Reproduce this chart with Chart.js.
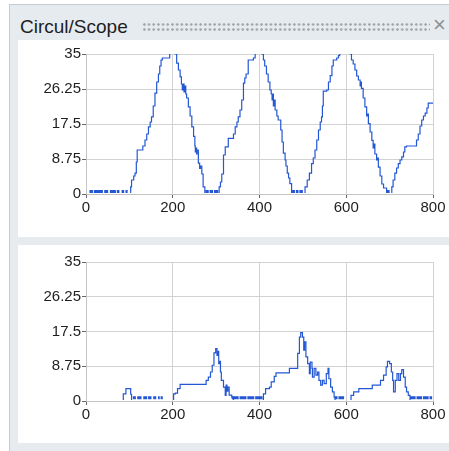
<!DOCTYPE html>
<html>
<head>
<meta charset="utf-8">
<script src="https://cdn.jsdelivr.net/npm/chart.js@4.4.0/dist/chart.umd.min.js"></script>
<style>
  body { margin: 0; background: #ffffff; width: 449px; height: 451px; overflow: hidden; position: relative; font-family: "Liberation Sans", Arial, sans-serif; }
  #panel { position: absolute; left: 9px; top: 4px; width: 440px; height: 447px; border-left: 1px solid #c6ccd1; border-top: 1px solid #c6ccd1; background: #e6ebef; }
  #title { position: absolute; left: 10px; top: 11px; font-size: 19px; color: #1e1e1e; }
  #grip { position: absolute; left: 132px; top: 17px; width: 288px; height: 10px;
          background: radial-gradient(circle, #a3a8ad 1px, transparent 1.5px) 0 0 / 4.7px 5px; }
  #close { position: absolute; left: 423px; top: 7px; font-size: 22px; color: #8d9196; }
  .box { position: absolute; left: 18px; width: 431px; background: #ffffff; }
</style>
</head>
<body>
<div id="panel">
  <div id="title">Circul/Scope</div>
  <div id="grip"></div>
  <div id="close">×</div>
</div>
<div class="box" style="top:40px;height:197px"><canvas id="topChart"></canvas></div>
<div class="box" style="top:245px;height:198px"><canvas id="bottomChart"></canvas></div>
<script>
// axis ticks
const xTicks = [0, 200, 400, 600, 800];
const yTicks = [0, 8.75, 17.5, 26.25, 35];

// upper trace
const topX = [0, 99, 103, 105, 110, 113, 116, 118, 127, 131, 136, 140, 144, 148, 151, 155, 159, 163, 167, 170, 173, 176, 190, 193, 198, 203, 205,
  209, 213, 217, 220, 222, 224, 226, 228, 230, 232, 236, 240, 244, 248, 251, 252, 253, 255, 256, 259, 262, 264, 267, 270, 274,
  306, 307, 310, 313, 317, 321, 328, 336, 340, 344, 348, 351, 355, 359, 363, 366, 369, 374, 386, 390, 397, 403, 405,
  409, 412, 416, 420, 424, 427, 429, 430, 432, 434, 436, 440, 443, 449, 452, 455, 459, 461, 464, 467, 470, 474,
  503, 505, 510, 515, 520, 524, 528, 532, 536, 540, 543, 545, 547, 555, 559, 563, 567, 570, 578, 582, 585, 595, 605, 609,
  612, 616, 620, 624, 628, 632, 634, 635, 639, 643, 647, 649, 651, 655, 659, 662, 664, 666, 670, 672, 674, 678, 682, 686, 693,
  700, 705, 708, 712, 716, 720, 724, 728, 732, 735, 739, 758, 762, 766, 770, 774, 778, 782, 786, 789, 800];
const topY = [0, 0, 1.8, 3.5, 4.5, 5.2, 8, 11, 11, 12, 13.5, 15, 16.8, 18, 19.3, 22, 25.2, 28, 30, 32, 33.5, 34, 34, 36, 37.5, 36, 35,
  32.7, 31, 29.3, 27.5, 26, 27.5, 25.5, 27, 25, 24, 21.8, 19.5, 16.8, 14.4, 12, 10.5, 11.5, 10, 11, 7.7, 6.4, 7, 5, 1.8, 0,
  0, 1.8, 3, 5, 9.75, 11.8, 13.9, 13.9, 15, 16.8, 18, 19.3, 21, 23.5, 27.7, 29, 30, 33.5, 34, 35.5, 37.5, 36, 35,
  33.5, 32, 30, 28, 26, 25, 23.5, 25, 22, 23.5, 21, 19.5, 18.5, 16, 13, 10.2, 8.5, 7, 5.2, 4, 2.6, 0,
  0, 1.8, 3.5, 5.2, 7.6, 9, 11, 13.5, 16, 18, 19.3, 22, 25.7, 26, 28, 29.6, 32, 33.5, 34, 34.6, 36, 38, 36.5, 35,
  33.5, 32.5, 31, 29.5, 28.5, 27, 28, 26.4, 24, 21.8, 19.5, 20, 17.6, 15.5, 13.4, 11.5, 12.5, 10, 8.5, 9, 6.7, 4.5, 2.5, 1.5, 0,
  0, 1.8, 3.5, 5.2, 6.5, 7.6, 8.5, 9.3, 10.5, 11.8, 12, 12, 13.5, 15, 17, 18.5, 19.5, 20.2, 21.5, 22.7, 22.7];
// flickering spans near zero (start, end)
const topFlicker = [[8, 16], [18, 39], [42, 51], [55, 69], [71, 77], [82, 88], [91, 96],
  [275, 283], [285, 293], [295, 305], [475, 482], [484, 490], [492, 500], [693, 700]];

// lower trace
const bottomX = [0, 85, 86, 92, 99, 103, 105, 200, 202, 206, 211, 217, 273, 277, 282, 287, 291, 295, 299, 302, 304, 306, 308, 310, 312,
  317, 321, 323, 325, 327, 330, 336, 340, 408, 409, 414, 423, 427, 434, 438, 467, 469, 484, 488, 492, 495, 499, 502, 504, 507,
  511, 515, 517, 521, 522, 526, 530, 534, 537, 541, 545, 549, 554, 558, 560, 564, 568, 572, 574, 610, 611, 617, 629, 656,
  660, 675, 679, 686, 692, 695, 700, 704, 707, 709, 713, 717, 721, 725, 728, 732, 736, 739, 743, 747, 800];
const bottomY = [0, 0, 1.8, 3.1, 3.1, 1.7, 0, 0, 1.8, 2, 3.1, 4.2, 4.2, 5.2, 6, 7.3, 9, 12.1, 13.2, 11.5, 12.5, 9.4, 10, 7.3, 5.2,
  3.5, 1.4, 4, 2.5, 3.5, 1.5, 1, 0, 0, 1.8, 3.1, 3.5, 4.8, 6.2, 7.1, 7.1, 8.2, 8.2, 12, 16.1, 17.2, 16.1, 12.8, 14.9, 11.1,
  9.4, 6.9, 9.8, 8.2, 6, 8.2, 6.5, 7.3, 5.2, 4, 5.2, 4.4, 6.9, 8.2, 5.6, 3.5, 2.3, 1, 0, 0, 1.4, 2.3, 3.1, 3.1,
  4, 4, 5.2, 6.5, 8.6, 10, 9.4, 7.3, 5.2, 2.3, 5.2, 6.9, 5.2, 6.9, 7.9, 6, 3.5, 2.3, 1.4, 0, 0];
const bottomFlicker = [[108, 115], [118, 128], [132, 141], [143, 151], [155, 162], [166, 170], [172, 177],
  [336, 352], [354, 370], [372, 388], [390, 407], [574, 580], [582, 595],
  [747, 760], [762, 775], [777, 790], [792, 798]];

const LINE = "#2457d4";

function flickerPoints(spans, level) {
  let pts = [];
  spans.forEach(s => {
    pts.push({ x: s[0], y: level });
    pts.push({ x: s[1], y: level });
    pts.push({ x: s[1], y: null });
  });
  return pts;
}

function makeChart(id, xs, ys, spans, level, padTop, axisH) {
  const main = xs.map((x, i) => ({ x: x, y: ys[i] }));
  const tickFont = { family: "'Liberation Sans', Arial, sans-serif", size: 15 };
  return new Chart(document.getElementById(id), {
    type: "line",
    data: {
      datasets: [{
        data: main,
        borderColor: LINE,
        borderWidth: 1.2,
        pointRadius: 0,
        stepped: true,
        clip: { left: 0, top: 0, right: 0, bottom: -1 }
      }, {
        data: flickerPoints(spans, level),
        borderColor: LINE,
        borderWidth: 3,
        borderCapStyle: "butt",
        pointRadius: 0,
        spanGaps: false,
        clip: { left: 0, top: 0, right: 0, bottom: -1 }
      }]
    },
    options: {
      responsive: true,
      maintainAspectRatio: false,
      animation: false,
      layout: { padding: { top: padTop, right: 16, left: 0, bottom: 0 } },
      plugins: { legend: { display: false }, tooltip: { enabled: false } },
      scales: {
        x: {
          type: "linear",
          min: 0,
          max: 800,
          afterBuildTicks: s => { s.ticks = xTicks.map(v => ({ value: v })); },
          afterFit: s => { s.height = axisH; },
          grid: { color: "#d2d2d2", tickColor: "#666666", tickLength: 4 },
          border: { color: "#c4c4c4" },
          ticks: { color: "#1e1e1e", font: tickFont, padding: 1, maxRotation: 0, callback: v => String(v) }
        },
        y: {
          min: 0,
          max: 35,
          afterBuildTicks: s => { s.ticks = yTicks.map(v => ({ value: v })); },
          afterFit: s => { s.width = 68; },
          grid: { color: "#d2d2d2", tickColor: "#666666", tickLength: 4 },
          border: { color: "#c4c4c4" },
          ticks: { color: "#1e1e1e", font: tickFont, padding: 1, callback: v => String(v) }
        }
      }
    }
  });
}

makeChart("topChart", topX, topY, topFlicker, 0.6, 14, 43);
makeChart("bottomChart", bottomX, bottomY, bottomFlicker, 0.8, 17, 42);
</script>
</body>
</html>
